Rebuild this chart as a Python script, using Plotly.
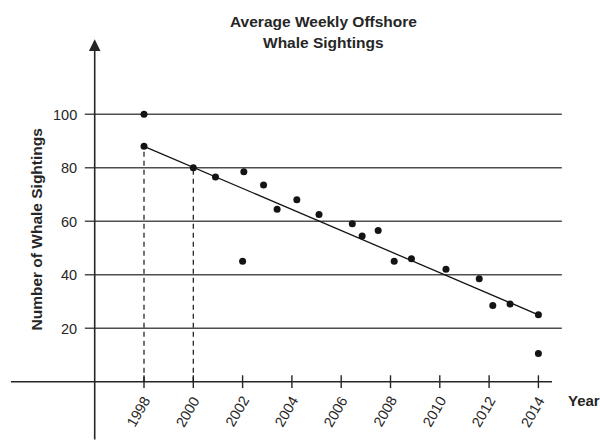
import plotly.graph_objects as go

# Observed average weekly sightings: year and count
obs_year = [1998, 1998, 2000, 2000.9, 2002.05, 2002.0, 2002.85, 2003.4, 2004.2,
            2005.1, 2006.45, 2006.85, 2007.5, 2008.15, 2008.85, 2010.25, 2011.6,
            2012.15, 2012.85, 2014, 2014]
obs_sightings = [100, 88, 80, 76.5, 78.5, 45, 73.5, 64.5, 68,
                 62.5, 59, 54.5, 56.5, 45, 46, 42, 38.5,
                 28.5, 29, 25, 10.5]

# Line of best fit end points
fit_year = [1998, 2014]
fit_sightings = [88, 25]

# Dashed drop lines from the fit to the x-axis
drop_year = [1998, 2000]
drop_sightings = [88, 80]

x_tick_vals = [1998, 2000, 2002, 2004, 2006, 2008, 2010, 2012, 2014]
x_tick_text = ["1998", "2000", "2002", "2004", "2006", "2008", "2010", "2012", "2014"]
y_tick_vals = [20, 40, 60, 80, 100]
y_tick_text = ["20", "40", "60", "80", "100"]

title_lines = ["Average Weekly Offshore", "Whale Sightings"]
x_title = "Year"
y_title = "Number of Whale Sightings"

# ---- layout geometry (data units) ----
W, H = 600, 441
X_RANGE = [1992.158, 2016.499]
Y_RANGE = [-22.17, 142.69]
Y_AXIS_AT = 1996
GRID_SPAN = (1995.6, 2014.95)
X_AXIS_SPAN = (1992.6, 2014.55)
ARROW_TIP = 128
TICK_HALF = 2.4

FONT = "Liberation Sans, Arial, Helvetica, sans-serif"
TEXT = "#262626"
GRID = "#4f4f4f"
AXIS = "#262626"
INK = "#141414"

fig = go.Figure()

for yr, v in zip(drop_year, drop_sightings):
    fig.add_trace(go.Scatter(
        x=[yr, yr], y=[0, v], mode="lines",
        line=dict(color=INK, width=1.2, dash="5px,4px"),
        hoverinfo="skip"))

fig.add_trace(go.Scatter(
    x=fit_year, y=fit_sightings, mode="lines",
    line=dict(color=INK, width=1.3), hoverinfo="skip"))

fig.add_trace(go.Scatter(
    x=obs_year, y=obs_sightings, mode="markers",
    marker=dict(color=INK, size=7, line=dict(width=0))))

shapes = []
for v in y_tick_vals:
    shapes.append(dict(type="line", xref="x", yref="y",
                       x0=GRID_SPAN[0], x1=GRID_SPAN[1], y0=v, y1=v,
                       line=dict(color=GRID, width=1.6), layer="below"))
shapes.append(dict(type="line", xref="x", yref="y",
                   x0=X_AXIS_SPAN[0], x1=X_AXIS_SPAN[1], y0=0, y1=0,
                   line=dict(color=AXIS, width=1.6), layer="below"))
for xv in x_tick_vals:
    shapes.append(dict(type="line", xref="x", yref="y",
                       x0=xv, x1=xv, y0=-TICK_HALF, y1=TICK_HALF,
                       line=dict(color=AXIS, width=1.4), layer="below"))

annotations = []
# vertical axis with arrow head
annotations.append(dict(
    x=Y_AXIS_AT, y=ARROW_TIP, xref="x", yref="y",
    ax=Y_AXIS_AT, ay=Y_RANGE[0], axref="x", ayref="y",
    text="", showarrow=True, arrowhead=2, arrowsize=1.45,
    arrowwidth=1.6, arrowcolor=AXIS, standoff=0))

for v, t in zip(y_tick_vals, y_tick_text):
    annotations.append(dict(
        x=79 / W, y=v, xref="paper", yref="y", text=t, showarrow=False,
        xanchor="right", yanchor="middle", yshift=-0.5,
        font=dict(family=FONT, size=14.5, color=TEXT)))

for xv, t in zip(x_tick_vals, x_tick_text):
    annotations.append(dict(
        x=xv, y=0, xref="x", yref="y", text=t, showarrow=False,
        xanchor="center", yanchor="middle", xshift=-6, yshift=-29.8,
        textangle=-60, font=dict(family=FONT, size=14.5, color=TEXT)))

annotations.append(dict(
    x=584 / W, y=1 - 400.5 / H, xref="paper", yref="paper", text="<b>%s</b>" % x_title,
    showarrow=False, xanchor="center", yanchor="middle",
    font=dict(family=FONT, size=15, color=TEXT)))

annotations.append(dict(
    x=36 / W, y=1 - 229.5 / H, xref="paper", yref="paper", text="<b>%s</b>" % y_title,
    showarrow=False, xanchor="center", yanchor="middle", textangle=-90,
    font=dict(family=FONT, size=15.5, color=TEXT)))

for line, yc in zip(title_lines, [21.5, 42.0]):
    annotations.append(dict(
        x=323 / W, y=1 - yc / H, xref="paper", yref="paper", text="<b>%s</b>" % line,
        showarrow=False, xanchor="center", yanchor="middle",
        font=dict(family=FONT, size=15.5, color=TEXT)))

fig.update_layout(
    width=W, height=H,
    margin=dict(l=0, r=0, t=0, b=0),
    paper_bgcolor="white", plot_bgcolor="white",
    showlegend=False,
    xaxis=dict(range=X_RANGE, visible=False, fixedrange=True),
    yaxis=dict(range=Y_RANGE, visible=False, fixedrange=True),
    shapes=shapes, annotations=annotations,
)

fig.write_html("out.html")
